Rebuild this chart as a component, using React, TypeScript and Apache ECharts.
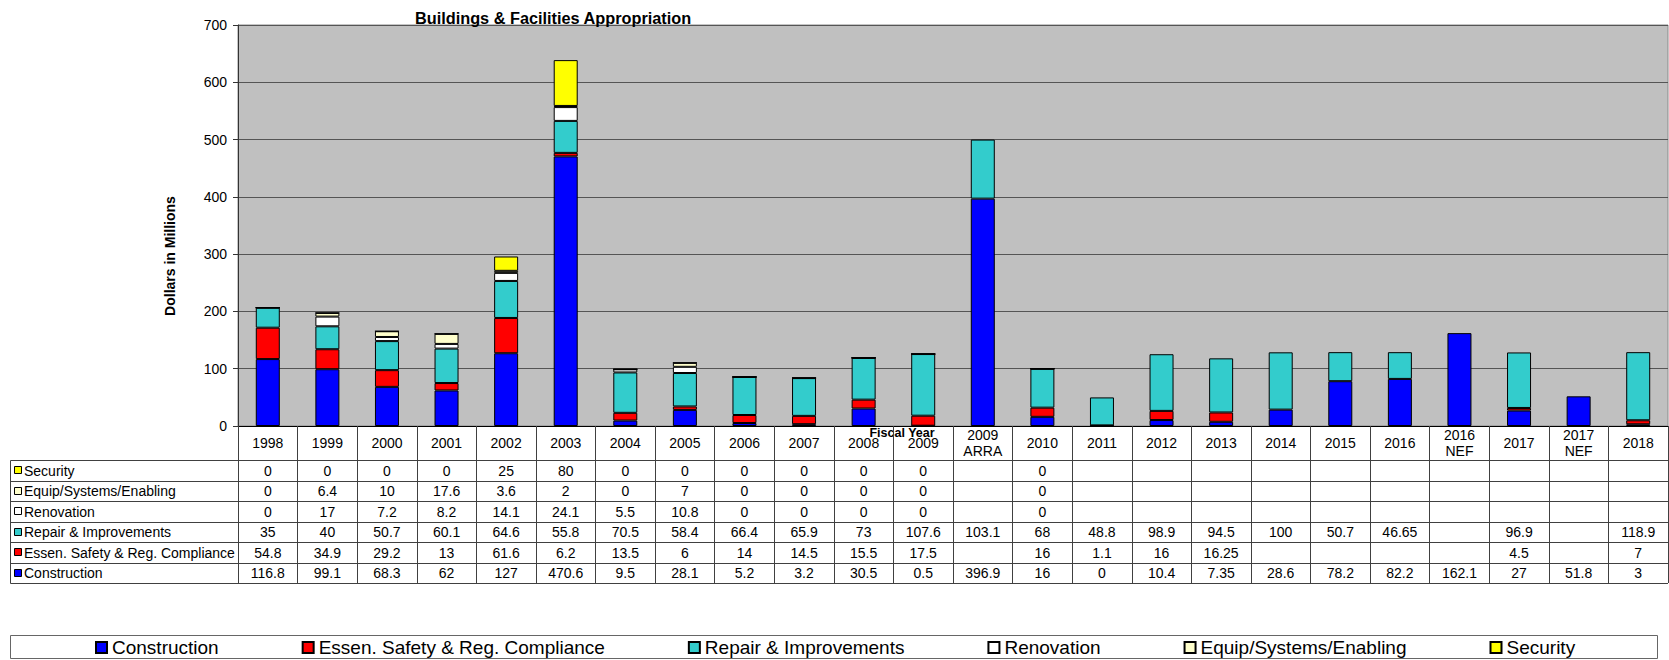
import React, { useEffect, useRef } from "react";
import * as echarts from "echarts";

// Fiscal years (multi-line labels for the special appropriations)
const categories = [
  "1998", "1999", "2000", "2001", "2002", "2003", "2004", "2005", "2006", "2007",
  "2008", "2009", "2009\nARRA", "2010", "2011", "2012", "2013", "2014", "2015", "2016",
  "2016\nNEF", "2017", "2017\nNEF", "2018",
];

// Dollars in millions per program line (null = no appropriation listed)
const construction = [
  116.8, 99.1, 68.3, 62, 127, 470.6, 9.5, 28.1, 5.2, 3.2,
  30.5, 0.5, 396.9, 16, 0, 10.4, 7.35, 28.6, 78.2, 82.2,
  162.1, 27, 51.8, 3,
];
const essenSafety = [
  54.8, 34.9, 29.2, 13, 61.6, 6.2, 13.5, 6, 14, 14.5,
  15.5, 17.5, null, 16, 1.1, 16, 16.25, null, null, null,
  null, 4.5, null, 7,
];
const repairImprovements = [
  35, 40, 50.7, 60.1, 64.6, 55.8, 70.5, 58.4, 66.4, 65.9,
  73, 107.6, 103.1, 68, 48.8, 98.9, 94.5, 100, 50.7, 46.65,
  null, 96.9, null, 118.9,
];
const renovation = [
  0, 17, 7.2, 8.2, 14.1, 24.1, 5.5, 10.8, 0, 0,
  0, 0, null, 0, null, null, null, null, null, null,
  null, null, null, null,
];
const equipSystems = [
  0, 6.4, 10, 17.6, 3.6, 2, 0, 7, 0, 0,
  0, 0, null, 0, null, null, null, null, null, null,
  null, null, null, null,
];
const security = [
  0, 0, 0, 0, 25, 80, 0, 0, 0, 0,
  0, 0, null, 0, null, null, null, null, null, null,
  null, null, null, null,
];

const seriesNames = [
  "Construction",
  "Essen. Safety & Reg. Compliance",
  "Repair & Improvements",
  "Renovation",
  "Equip/Systems/Enabling",
  "Security",
];
const seriesData = [construction, essenSafety, repairImprovements, renovation, equipSystems, security];
const seriesColors = ["#0000FF", "#FF0000", "#33CCCC", "#FFFFFF", "#FFFFCC", "#FFFF00"];

const yMin = 0;
const yMax = 700;
const yInterval = 100;

const FONT = "'Liberation Sans', Arial, Helvetica, sans-serif";

// Layout
const WIDTH = 1669;
const HEIGHT = 660;
const GRID_LEFT = 238;
const GRID_TOP = 25;
const AXIS_Y = 426;
const TABLE_TOP = 460;
const TABLE_BOTTOM = 583;
const TABLE_LEFT = 10.5;
const TABLE_RIGHT = 1668;
const LINE_COLOR = "#404040";

function buildTable(xs: number[]) {
  const elements: any[] = [];
  const rowOrder = [5, 4, 3, 2, 1, 0]; // top row first: Security ... Construction
  const rowH = (TABLE_BOTTOM - TABLE_TOP) / rowOrder.length;

  for (let r = 0; r <= rowOrder.length; r++) {
    const y = Math.round(TABLE_TOP + rowH * r) + 0.5;
    elements.push({
      type: "line",
      silent: true,
      shape: { x1: TABLE_LEFT, y1: y, x2: TABLE_RIGHT, y2: y },
      style: { stroke: LINE_COLOR, lineWidth: 1 },
    });
  }
  elements.push({
    type: "line",
    silent: true,
    shape: { x1: TABLE_LEFT, y1: TABLE_TOP + 0.5, x2: TABLE_LEFT, y2: TABLE_BOTTOM + 0.5 },
    style: { stroke: LINE_COLOR, lineWidth: 1 },
  });

  rowOrder.forEach((si, r) => {
    const cy = TABLE_TOP + rowH * (r + 0.5);
    elements.push({
      type: "rect",
      silent: true,
      shape: { x: 14.5, y: Math.round(cy - 4) + 0.5, width: 7, height: 7 },
      style: { fill: seriesColors[si], stroke: "#000", lineWidth: 1 },
    });
    elements.push({
      type: "text",
      silent: true,
      x: 24,
      y: cy + 0.5,
      style: {
        text: seriesNames[si],
        fontSize: 14,
        fontFamily: FONT,
        fill: "#000",
        align: "left",
        verticalAlign: "middle",
      },
    });
    seriesData[si].forEach((v, i) => {
      if (v === null || v === undefined) return;
      elements.push({
        type: "text",
        silent: true,
        x: xs[i],
        y: cy + 0.5,
        style: {
          text: String(v),
          fontSize: 14,
          fontFamily: FONT,
          fill: "#000",
          align: "center",
          verticalAlign: "middle",
        },
      });
    });
  });

  // Axis titles
  elements.push({
    type: "text",
    silent: true,
    x: 170,
    y: 256,
    rotation: Math.PI / 2,
    style: {
      text: "Dollars in Millions",
      fontSize: 14,
      fontWeight: "bold",
      fontFamily: FONT,
      fill: "#000",
      align: "center",
      verticalAlign: "middle",
    },
  });
  elements.push({
    type: "text",
    silent: true,
    x: 902,
    y: 433,
    style: {
      text: "Fiscal Year",
      fontSize: 12.5,
      fontWeight: "bold",
      fontFamily: FONT,
      fill: "#000",
      align: "center",
      verticalAlign: "middle",
    },
  });

  // Legend frame
  elements.push({
    type: "rect",
    silent: true,
    z: -1,
    shape: { x: 10.5, y: 635.5, width: 1647, height: 23 },
    style: { fill: "#fff", stroke: "#666", lineWidth: 1 },
  });
  return elements;
}

export default function App() {
  const ref = useRef<HTMLDivElement>(null);

  useEffect(() => {
    if (!ref.current) return;
    const chart = echarts.init(ref.current, null, { renderer: "svg" });

    chart.setOption({
      animation: false,
      backgroundColor: "#fff",
      title: {
        text: "Buildings & Facilities Appropriation",
        left: 410,
        top: 5,
        textStyle: { fontSize: 16.3, fontWeight: "bold", fontFamily: FONT, color: "#000" },
      },
      legend: {
        left: 90,
        top: 633,
        itemWidth: 11,
        itemHeight: 11,
        itemGap: 83,
        icon: "rect",
        selectedMode: false,
        data: seriesNames,
        textStyle: { fontSize: 19, fontFamily: FONT, color: "#000" },
      },
      grid: {
        left: GRID_LEFT,
        right: WIDTH - TABLE_RIGHT,
        top: GRID_TOP,
        bottom: HEIGHT - AXIS_Y,
        show: true,
        backgroundColor: "#C0C0C0",
        borderColor: "#8a8a8a",
        borderWidth: 1,
      },
      xAxis: {
        type: "category",
        data: categories,
        boundaryGap: true,
        axisLine: { show: true, lineStyle: { color: "#000", width: 1 } },
        axisTick: {
          show: true,
          alignWithLabel: false,
          interval: 0,
          length: TABLE_BOTTOM - AXIS_Y,
          lineStyle: { color: LINE_COLOR, width: 1 },
        },
        axisLabel: {
          interval: 0,
          margin: 17,
          verticalAlign: "middle",
          fontSize: 14,
          lineHeight: 16,
          fontFamily: FONT,
          color: "#000",
        },
        splitLine: { show: false },
      },
      yAxis: {
        type: "value",
        min: yMin,
        max: yMax,
        interval: yInterval,
        axisLine: { show: true, lineStyle: { color: "#333", width: 1 } },
        axisTick: { show: true, length: 5, inside: false, lineStyle: { color: "#333" } },
        axisLabel: { margin: 11, fontSize: 14, fontFamily: FONT, color: "#000" },
        splitLine: { show: true, lineStyle: { color: "#555", width: 1 } },
      },
      series: seriesNames.map((name, si) => ({
        name,
        type: "bar",
        stack: "total",
        barWidth: 24,
        data: seriesData[si],
        itemStyle: { color: seriesColors[si], borderColor: "#000", borderWidth: 1 },
        emphasis: { disabled: true },
      })),
    });

    const xs = categories.map((_, i) => chart.convertToPixel({ xAxisIndex: 0 }, i) as number);
    chart.setOption({ graphic: { elements: buildTable(xs) } });

    return () => chart.dispose();
  }, []);

  return (
    <div
      ref={ref}
      style={{ position: "fixed", left: 0, top: 0, width: WIDTH, height: HEIGHT, background: "#fff" }}
    />
  );
}
